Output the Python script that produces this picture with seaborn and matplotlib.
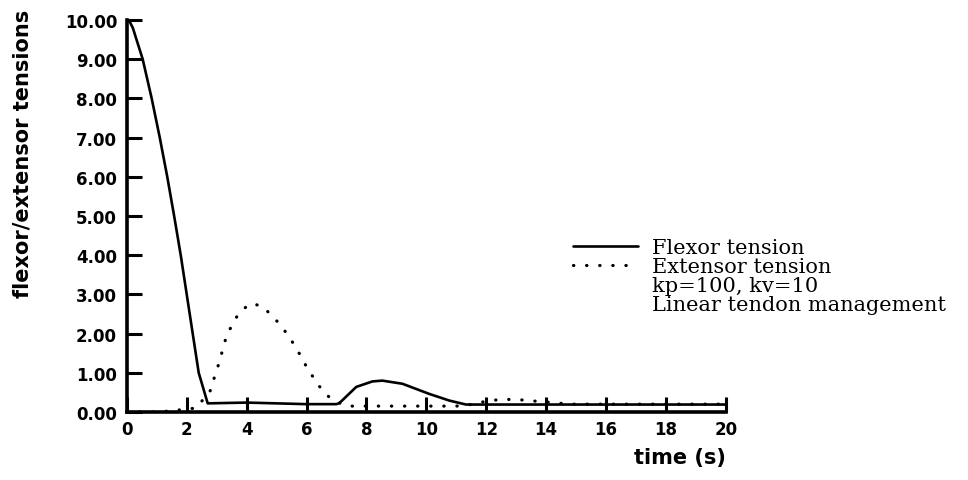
import matplotlib
matplotlib.use("Agg")
import matplotlib.pyplot as plt
from matplotlib.lines import Line2D
import seaborn as sns

# values
flexor_t = [0, 0.1, 0.2, 0.53, 0.83, 1.1, 1.35, 1.58, 1.8, 2.0, 2.2, 2.4, 2.7,
            4.0, 6.0, 7.0, 7.1, 7.66, 8.2, 8.53, 9.2, 10.1, 10.77, 11.32, 14, 17, 20]
flexor = [10, 9.95, 9.8, 9.0, 8.0, 7.0, 6.0, 5.0, 4.0, 3.0, 2.0, 1.0, 0.22,
          0.24, 0.2, 0.2, 0.23, 0.64, 0.78, 0.8, 0.72, 0.46, 0.29, 0.19, 0.19, 0.19, 0.19]

extensor_t = [0, 1.0, 1.5, 2.3, 2.77, 2.93, 3.07, 3.32, 3.5, 3.73, 4.07, 4.2, 4.54,
              4.87, 5.17, 5.43, 5.69, 5.9, 6.16, 6.4, 6.69, 7.0, 7.43, 9, 11, 11.6,
              12.0, 12.5, 13.0, 13.43, 14.37, 14.77, 17, 20]
extensor = [0, 0.0, 0.03, 0.1, 0.51, 0.9, 1.23, 1.92, 2.2, 2.51, 2.74, 2.77, 2.68,
            2.44, 2.18, 1.9, 1.59, 1.28, 0.96, 0.68, 0.42, 0.25, 0.15, 0.15, 0.15, 0.2,
            0.28, 0.32, 0.32, 0.29, 0.23, 0.2, 0.2, 0.2]

x_ticks = [0, 2, 4, 6, 8, 10, 12, 14, 16, 18, 20]
y_ticks = [0, 1, 2, 3, 4, 5, 6, 7, 8, 9, 10]
legend_labels = ["Flexor tension", "Extensor tension", "kp=100, kv=10",
                 "Linear tendon management"]

sns.set_style("ticks")
plt.rcParams['font.family'] = ['DejaVu Sans']

fig = plt.figure(figsize=(9.68, 4.81), dpi=100)
ax = fig.add_axes([0.131, 0.1414, 0.619, 0.815])

sns.lineplot(x=flexor_t, y=flexor, ax=ax, color='black', linewidth=1.9,
             sort=False, estimator=None)
sns.lineplot(x=extensor_t, y=extensor, ax=ax, color='black', linewidth=2.3,
             linestyle=(0, (0.1, 4)), dash_capstyle='round',
             sort=False, estimator=None)

ax.set_xlim(0, 20)
ax.set_ylim(0, 10)
ax.set_xticks(x_ticks)
ax.set_yticks(y_ticks)
ax.set_xticklabels([str(v) for v in x_ticks])
ax.set_yticklabels(["%.2f" % v for v in y_ticks])
sns.despine(ax=ax)
for s in ['left', 'bottom']:
    ax.spines[s].set_linewidth(2.6)
    ax.spines[s].set_color('black')
ax.tick_params(direction='in', length=10.5, width=2.2, color='black',
               labelsize=12, labelcolor='black')
ax.tick_params(axis='x', pad=6)
ax.tick_params(axis='y', pad=7)
for lbl in ax.get_xticklabels() + ax.get_yticklabels():
    lbl.set_fontweight('bold')

ax.set_ylabel("flexor/extensor tensions", fontsize=15, fontweight='bold',
              loc='top', color='black')
ax.yaxis.set_label_coords(-0.157, 1.028)
ax.set_xlabel("time (s)", fontsize=15, fontweight='bold', loc='right', color='black')
ax.xaxis.set_label_coords(1.0, -0.089)

# legend: two line keys and two plain text rows, packed tightly
handles = [ax.lines[0], ax.lines[1],
           Line2D([], [], linestyle='none'), Line2D([], [], linestyle='none')]
fig.legend(handles, legend_labels, loc='center left', bbox_to_anchor=(0.592, 0.424),
           frameon=False, borderpad=0, borderaxespad=0, handlelength=3.1,
           handletextpad=0.7, labelspacing=0.0, labelcolor='black',
           prop={'family': 'DejaVu Serif', 'size': 15})

fig.savefig("out.png", dpi=100)
